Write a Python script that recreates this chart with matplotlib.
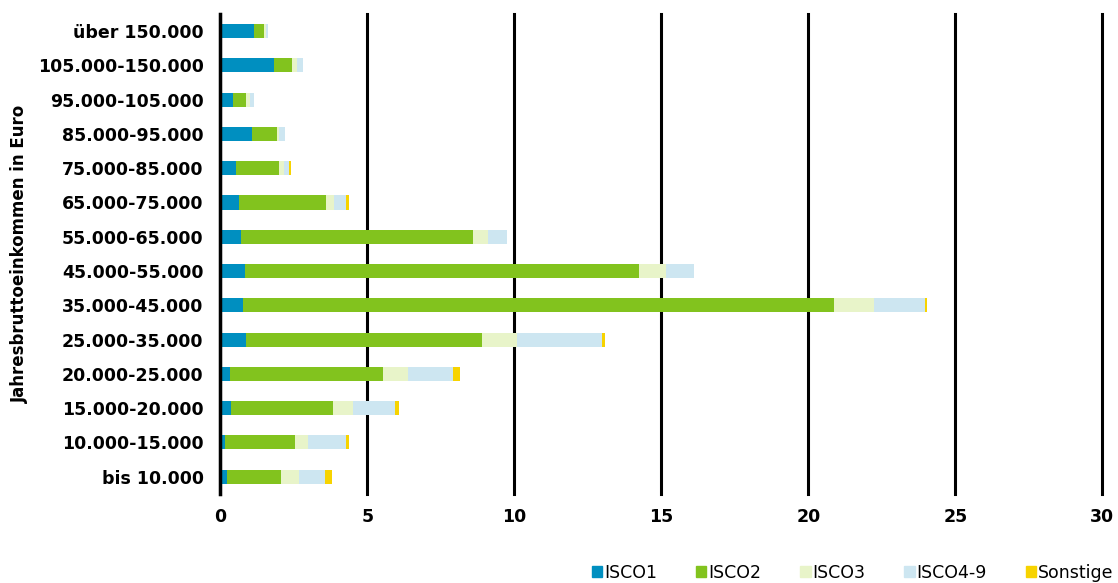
import matplotlib.pyplot as plt
from matplotlib.patches import Patch
import numpy as np

plt.rcParams['font.family'] = ['DejaVu Sans']

# categories, bottom to top
categories = ['bis 10.000', '10.000-15.000', '15.000-20.000', '20.000-25.000',
              '25.000-35.000', '35.000-45.000', '45.000-55.000', '55.000-65.000',
              '65.000-75.000', '75.000-85.000', '85.000-95.000', '95.000-105.000',
              '105.000-150.000', 'über 150.000']

isco1 = [0.24, 0.17, 0.37, 0.34, 0.88, 0.78, 0.85, 0.71, 0.65, 0.54, 1.09, 0.44, 1.84, 1.16]
isco2 = [1.83, 2.38, 3.47, 5.20, 8.03, 20.10, 13.40, 7.89, 2.95, 1.46, 0.85, 0.44, 0.61, 0.34]
isco3 = [0.61, 0.44, 0.68, 0.85, 1.19, 1.36, 0.92, 0.52, 0.28, 0.18, 0.06, 0.14, 0.17, 0.05]
isco49 = [0.89, 1.29, 1.43, 1.54, 2.90, 1.74, 0.95, 0.64, 0.41, 0.17, 0.21, 0.14, 0.20, 0.08]
sonstige = [0.24, 0.11, 0.14, 0.23, 0.10, 0.07, 0.00, 0.00, 0.10, 0.07, 0.00, 0.00, 0.00, 0.00]

series = [('ISCO1', isco1, '#008fc0'),
          ('ISCO2', isco2, '#82c31e'),
          ('ISCO3', isco3, '#e8f4c9'),
          ('ISCO4-9', isco49, '#cde6f1'),
          ('Sonstige', sonstige, '#f7d300')]

fig = plt.figure(figsize=(11.18, 5.83), dpi=100)
ax = fig.add_axes([0.197, 0.153, 0.789, 0.823])

y = np.arange(len(categories))
left = np.zeros(len(categories))
for name, vals, col in series:
    vals = np.array(vals)
    ax.barh(y, vals, left=left, height=0.41, color=col, zorder=3)
    left += vals

ax.set_xlim(0, 30)
ax.set_ylim(-0.5, len(categories) - 0.5)
ax.set_xticks(range(0, 31, 5))
ax.set_yticks(y)
ax.set_yticklabels(categories, fontsize=12.5, fontweight='bold')
ax.tick_params(axis='x', labelsize=12.5, length=0, pad=10)
ax.tick_params(axis='y', length=0, pad=12)
for lab in ax.get_xticklabels():
    lab.set_fontweight('bold')

ax.grid(axis='x', color='black', linewidth=2.2, zorder=0)
for gl in ax.get_xgridlines():
    gl.set_clip_on(False)
for s in ['top', 'right', 'bottom']:
    ax.spines[s].set_visible(False)
ax.spines['left'].set_linewidth(2.5)
ax.spines['left'].set_zorder(4)

ax.set_ylabel('Jahresbruttoeinkommen in Euro', fontsize=12, fontweight='bold', labelpad=6)

handles = [Patch(color=c, label=n) for n, _, c in series]
fig.legend(handles=handles, loc='lower right', bbox_to_anchor=(1.01, -0.025), ncol=5,
           frameon=False, fontsize=12.5, handlelength=0.6, handleheight=0.6,
           handletextpad=0.1, columnspacing=2.25)

fig.savefig('out.png', dpi=100)
